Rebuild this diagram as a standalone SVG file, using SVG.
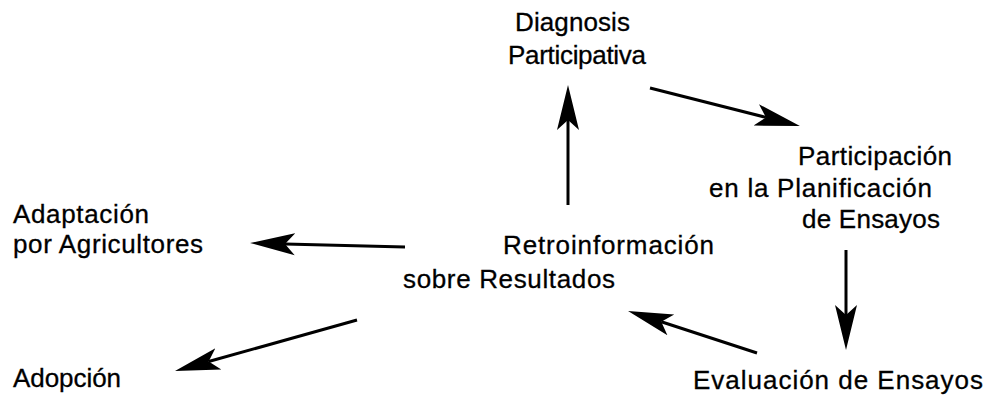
<svg xmlns="http://www.w3.org/2000/svg" width="988" height="396" viewBox="0 0 988 396">
<style>
text{font-family:"Liberation Sans",Arial,sans-serif;font-size:26px;fill:#000;stroke:#000;stroke-width:0.3}
.c{stroke:#000;stroke-width:3;fill:none;marker-end:url(#ah)}
</style>
<defs>
<marker id="ah" markerUnits="userSpaceOnUse" markerWidth="48" markerHeight="26" viewBox="0 0 48 26" refX="10" refY="13" orient="auto">
<path d="M45,13 L0,2 L10,13 L0,24 Z" fill="#000"/>
</marker>
</defs>
<rect width="988" height="396" fill="#fff"/>
<g id="connectors">
<line class="c" x1="568" y1="205" x2="568" y2="120"/>
<line class="c" x1="650" y1="88" x2="766" y2="117.4"/>
<line class="c" x1="846" y1="250" x2="846" y2="315"/>
<line class="c" x1="757" y1="353" x2="661.3" y2="321.8"/>
<line class="c" x1="405" y1="247" x2="285" y2="243.9"/>
<line class="c" x1="357" y1="320" x2="208.7" y2="361.5"/>
</g>
<g id="diagnosis">
<text x="515" y="31" textLength="115" lengthAdjust="spacing">Diagnosis</text>
<text x="508" y="64" textLength="138" lengthAdjust="spacing">Participativa</text>
</g>
<g id="planificacion">
<text x="798" y="165" textLength="154" lengthAdjust="spacing">Participación</text>
<text x="709" y="197" textLength="223" lengthAdjust="spacing">en la Planificación</text>
<text x="802" y="228" textLength="138" lengthAdjust="spacing">de Ensayos</text>
</g>
<g id="evaluacion">
<text x="693" y="389" textLength="290" lengthAdjust="spacing">Evaluación de Ensayos</text>
</g>
<g id="retroinformacion">
<text x="503" y="254" textLength="211" lengthAdjust="spacing">Retroinformación</text>
<text x="403" y="288" textLength="212" lengthAdjust="spacing">sobre Resultados</text>
</g>
<g id="adaptacion">
<text x="13" y="223" textLength="136" lengthAdjust="spacing">Adaptación</text>
<text x="13" y="253" textLength="190" lengthAdjust="spacing">por Agricultores</text>
</g>
<g id="adopcion">
<text x="13" y="387" textLength="108" lengthAdjust="spacing">Adopción</text>
</g>
</svg>
